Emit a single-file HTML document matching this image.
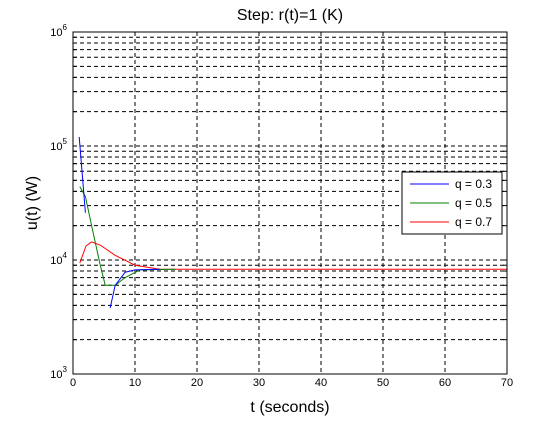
<!DOCTYPE html>
<html><head><meta charset="utf-8"><style>
body{margin:0;background:#fff;font-family:"Liberation Sans",sans-serif}
svg text{font-family:"Liberation Sans",sans-serif}
</style></head><body>
<svg id="c" width="560" height="420" xmlns="http://www.w3.org/2000/svg">
<rect width="560" height="420" fill="#fff"/>
<g id="grid"></g><g id="series"></g><g id="axes"></g>
</svg>
<script>
const xTicks=[0,10,20,30,40,50,60,70];
const decades=[3,4,5,6];
const blueT1=[1,2];
const blueV1=[120000,26000];
const blueT2=[6,6.8,8.4,10,14];
const blueV2=[3800,6000,7800,8200,8300];
const greenT=[1.1,2,3,4.4,5.2,6,6.8,8.4,10.8,16.5];
const greenV=[44000,36000,20000,9000,6000,6000,6000,7000,8200,8300];
const redT=[1.1,2.1,3,4.4,6.8,10,14,22,70];
const redV=[9400,13300,14400,13500,11000,9000,8300,8300,8300];
const L=73,R=507,T=32,B=374;
const xs=t=>L+(t-0)/70*(R-L);
const ys=v=>B-(Math.log10(v)-3)/3*(B-T);
const NS="http://www.w3.org/2000/svg";
function mk(tag,attrs,parent,text){const e=document.createElementNS(NS,tag);for(const k in attrs)e.setAttribute(k,attrs[k]);if(text!==undefined)e.textContent=text;parent.appendChild(e);return e;}
const grid=document.getElementById('grid'),axes=document.getElementById('axes'),ser=document.getElementById('series');
for(let d=3;d<6;d++){for(let m=1;m<=9;m++){const v=m*Math.pow(10,d);if(v<=1000)continue;const y=ys(v);
const g=mk('line',{x1:L,x2:R,y1:y,y2:y,stroke:'#000','stroke-width':1,'stroke-dasharray':'4,3'},grid);


mk('line',{x1:L,x2:L+4,y1:y,y2:y,stroke:'#000'},axes);mk('line',{x1:R,x2:R-4,y1:y,y2:y,stroke:'#000'},axes);}}
xTicks.forEach(t=>{const x=xs(t);
if(t>0&&t<70){const g=mk('line',{x1:x,x2:x,y1:T,y2:B,stroke:'#000','stroke-dasharray':'4,3'},grid);

}
const tl=mk('text',{x:x,y:B+12,'font-size':11,'text-anchor':'middle',fill:'#000'},axes,String(t));

});
decades.forEach(d=>{const y=ys(Math.pow(10,d));
const tl=mk('text',{x:L-6,y:y+4,'font-size':11,'text-anchor':'end',fill:'#000'},axes);


mk('tspan',{},tl,'10');mk('tspan',{dy:-6,'font-size':8},tl,String(d));});
const box=mk('rect',{x:L,y:T,width:R-L,height:B-T,fill:'none',stroke:'#000'},axes);


function line(ts,vs,col,name){const p=mk('polyline',{points:ts.map((t,i)=>xs(t)+','+ys(vs[i])).join(' '),fill:'none',stroke:col,'stroke-width':1},ser);

}
line(redT,redV,'#f00','series-q07');
line(greenT,greenV,'#008000','series-q05');
line(blueT1,blueV1,'#00f','series-q03-a');
line(blueT2,blueV2,'#00f','series-q03-b');
const lg=mk('g',{},axes);


mk('rect',{x:402,y:172,width:100,height:62,fill:'#fff',stroke:'#000'},lg);
[['#00f','q = 0.3'],['#008000','q = 0.5'],['#f00','q = 0.7']].forEach((e,i)=>{const y=184+i*19;
mk('line',{x1:410,x2:449,y1:y,y2:y,stroke:e[0]},lg);
const t=mk('text',{x:455,y:y+4,'font-size':12,fill:'#000'},lg,e[1]);

});
const ti=mk('text',{x:290,y:20,'font-size':16,'text-anchor':'middle',fill:'#000'},axes,'Step: r(t)=1 (K)');


const xl=mk('text',{x:290,y:412,'font-size':16,'text-anchor':'middle',fill:'#000'},axes,'t (seconds)');


const yl=mk('text',{x:0,y:0,'font-size':16,'text-anchor':'middle',fill:'#000',transform:'translate(37,203) rotate(-90)'},axes,'u(t) (W)');


</script>
</body></html>
